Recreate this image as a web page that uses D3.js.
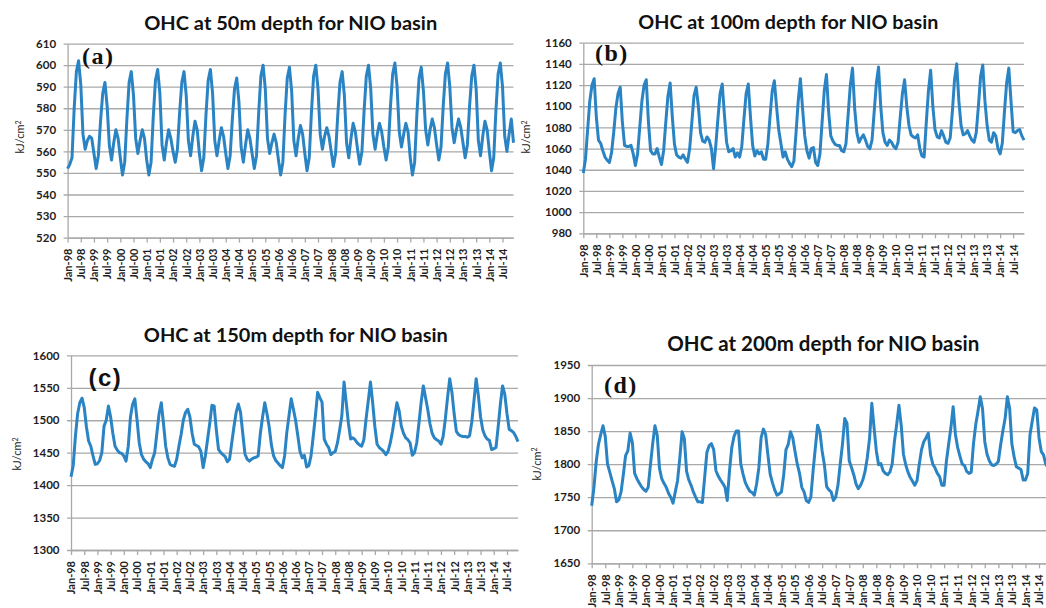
<!DOCTYPE html>
<html>
<head>
<meta charset="utf-8">
<script src="https://cdn.jsdelivr.net/npm/d3@7"></script>
<style>
  html, body { margin: 0; padding: 0; background: #fff; }
  svg { display: block; }
</style>
</head>
<body>
<svg id="chart" width="1046" height="608"></svg>
<script>

// x tick labels, one every 6 months
var tickLabels = ["Jan-98","Jul-98","Jan-99","Jul-99","Jan-00","Jul-00","Jan-01","Jul-01",
  "Jan-02","Jul-02","Jan-03","Jul-03","Jan-04","Jul-04","Jan-05","Jul-05","Jan-06","Jul-06",
  "Jan-07","Jul-07","Jan-08","Jul-08","Jan-09","Jul-09","Jan-10","Jul-10","Jan-11","Jul-11",
  "Jan-12","Jul-12","Jan-13","Jul-13","Jan-14","Jul-14"];

// monthly OHC, Jan-98 .. Dec-14 (one row per year)
var ohc50 = [
  552, 554, 557, 580, 597, 602, 591, 568, 561, 565, 567, 566,
  559, 552, 558, 574, 587, 592, 581, 563, 556, 564, 570, 566,
  557, 549, 555, 575, 592, 597, 586, 566, 559, 565, 570, 566,
  556, 549, 555, 576, 593, 598, 587, 563, 556, 564, 570, 566,
  560, 555, 561, 578, 592, 597, 586, 565, 558, 567, 574, 570,
  559, 551, 557, 577, 593, 598, 587, 565, 558, 565, 571, 567,
  559, 552, 558, 575, 589, 594, 583, 562, 555, 563, 570, 566,
  559, 552, 558, 578, 595, 600, 589, 566, 559, 564, 568, 564,
  556, 549, 555, 577, 594, 599, 588, 565, 558, 566, 572, 568,
  559, 551, 557, 578, 595, 600, 589, 568, 561, 567, 571, 567,
  560, 553, 559, 577, 592, 597, 586, 564, 557, 566, 573, 569,
  561, 554, 560, 579, 595, 600, 589, 568, 561, 568, 573, 569,
  562, 556, 562, 581, 596, 601, 590, 569, 562, 568, 573, 569,
  557, 549, 555, 577, 594, 599, 588, 570, 563, 570, 575, 571,
  563, 556, 562, 581, 596, 601, 590, 571, 564, 570, 575, 571,
  564, 557, 563, 581, 595, 600, 589, 565, 558, 567, 574, 570,
  560, 551, 557, 579, 596, 601, 590, 567, 560, 568, 575, 564
];

var ohc100 = [
  1037, 1050, 1078, 1105, 1120, 1126, 1090, 1068, 1065, 1058, 1052, 1049,
  1047, 1056, 1075, 1098, 1112, 1118, 1085, 1063, 1062, 1062, 1063, 1055,
  1044, 1055, 1080, 1105, 1120, 1125, 1085, 1058, 1055, 1055, 1060, 1052,
  1045, 1058, 1085, 1110, 1122, 1090, 1064, 1054, 1052, 1051, 1054, 1050,
  1047, 1060, 1085, 1110, 1118, 1100, 1075, 1067, 1066, 1071, 1068, 1060,
  1041, 1062, 1088, 1112, 1121, 1092, 1066, 1057, 1058, 1060, 1052, 1056,
  1052, 1062, 1088, 1112, 1121, 1090, 1063, 1053, 1058, 1055, 1057, 1050,
  1050, 1064, 1090, 1114, 1124, 1100, 1078, 1065, 1052, 1057, 1050, 1046,
  1043, 1048, 1075, 1105, 1126, 1098, 1072, 1058, 1051, 1060, 1061, 1047,
  1044, 1055, 1085, 1115, 1130, 1095, 1072, 1067, 1064, 1063, 1063, 1058,
  1057, 1065, 1092, 1120, 1136, 1098, 1075, 1066, 1070, 1073, 1068, 1062,
  1060, 1068, 1095, 1122, 1137, 1100, 1075, 1066, 1063, 1068, 1066, 1062,
  1060, 1066, 1090, 1112, 1125, 1100, 1082, 1073, 1071, 1070, 1073, 1060,
  1053, 1052, 1085, 1115, 1134, 1100, 1078, 1071, 1070, 1077, 1072, 1066,
  1065, 1070, 1095, 1125, 1140, 1105, 1082, 1073, 1074, 1077, 1072, 1068,
  1066, 1075, 1100, 1128, 1139, 1105, 1082, 1068, 1066, 1075, 1072, 1060,
  1055, 1065, 1095, 1122, 1136, 1105, 1076, 1075, 1077, 1078, 1072, 1068
];

var ohc150 = [
  1413, 1430, 1475, 1510, 1527, 1534, 1520, 1490, 1468, 1460, 1445, 1432,
  1433, 1438, 1450, 1491, 1500, 1522, 1505, 1480, 1460, 1454, 1450, 1449,
  1445, 1437, 1460, 1505, 1525, 1533, 1500, 1465, 1447, 1440, 1436, 1433,
  1427, 1440, 1450, 1480, 1510, 1527, 1495, 1460, 1442, 1432, 1430, 1429,
  1440, 1460, 1478, 1500, 1512, 1517, 1505, 1480, 1463, 1461, 1459, 1452,
  1427, 1445, 1470, 1495, 1523, 1522, 1485, 1455, 1450, 1447, 1444, 1436,
  1440, 1465, 1490, 1512, 1525, 1512, 1480, 1448, 1440, 1437, 1440, 1442,
  1443, 1445, 1480, 1505, 1527, 1510, 1490, 1462, 1445, 1438, 1434, 1430,
  1427, 1445, 1481, 1507, 1533, 1517, 1500, 1476, 1452, 1442, 1446, 1428,
  1430, 1445, 1475, 1507, 1543, 1535, 1528, 1471, 1463, 1458, 1447, 1450,
  1452, 1465, 1485, 1507, 1559, 1527, 1495, 1471, 1473, 1470, 1465, 1462,
  1460, 1470, 1502, 1530, 1559, 1527, 1490, 1463, 1458, 1455, 1452, 1447,
  1452, 1465, 1483, 1505, 1527, 1515, 1491, 1480, 1473, 1470, 1465, 1446,
  1450, 1465, 1495, 1527, 1553, 1535, 1517, 1495, 1480, 1473, 1470, 1468,
  1463, 1475, 1502, 1535, 1564, 1543, 1510, 1483, 1478, 1476, 1475, 1475,
  1474, 1476, 1497, 1530, 1564, 1538, 1505, 1485, 1476, 1471, 1469, 1455,
  1456, 1458, 1490, 1525, 1553, 1540, 1510, 1486, 1484, 1481, 1475, 1467
];

var ohc200 = [
  1737, 1765, 1804, 1830, 1845, 1858, 1842, 1800, 1788, 1775, 1763, 1743,
  1746, 1758, 1784, 1813, 1820, 1847, 1833, 1786, 1778, 1772, 1766, 1762,
  1759, 1765, 1799, 1831, 1858, 1844, 1794, 1778, 1771, 1765, 1756, 1750,
  1741, 1758, 1775, 1809, 1849, 1839, 1789, 1776, 1768, 1758, 1750, 1743,
  1743, 1742, 1780, 1818, 1828, 1831, 1822, 1790, 1782, 1776, 1771, 1765,
  1745, 1790, 1825, 1842, 1850, 1850, 1800, 1785, 1772, 1765, 1759, 1757,
  1753, 1770, 1795, 1840, 1853, 1845, 1814, 1785, 1772, 1761, 1753, 1755,
  1758, 1784, 1822, 1830, 1849, 1840, 1819, 1800, 1786, 1765, 1758, 1745,
  1742, 1750, 1790, 1825, 1859, 1849, 1820, 1799, 1766, 1761, 1758, 1745,
  1750, 1768, 1800, 1830, 1869, 1862, 1805, 1795, 1784, 1770, 1763, 1768,
  1776, 1789, 1810, 1839, 1892, 1855, 1820, 1799, 1801, 1790, 1786, 1784,
  1788, 1800, 1834, 1860, 1889, 1859, 1815, 1799, 1788, 1780, 1774, 1768,
  1775, 1800, 1822, 1834, 1840, 1847, 1814, 1800, 1794, 1786, 1781, 1768,
  1768, 1804, 1830, 1855, 1887, 1845, 1825, 1812, 1800, 1798, 1789, 1786,
  1788, 1831, 1860, 1880, 1902, 1884, 1834, 1815, 1805, 1799, 1798, 1800,
  1804, 1829, 1850, 1869, 1902, 1884, 1830, 1811, 1796, 1794, 1792, 1776,
  1776, 1786, 1844, 1865, 1885, 1882, 1840, 1819, 1814, 1800, 1795, 1790
];

// y tick values per panel
var ticks50 = [520, 530, 540, 550, 560, 570, 580, 590, 600, 610];
var ticks100 = [980, 1000, 1020, 1040, 1060, 1080, 1100, 1120, 1140, 1160];
var ticks150 = [1300, 1350, 1400, 1450, 1500, 1550, 1600];
var ticks200 = [1650, 1700, 1750, 1800, 1850, 1900, 1950];

var lineColor = "#2a84c4";
var gridColor = "#a9a9a9";
var sans = "Lato, 'Open Sans', sans-serif";

var panels = [
  { title: "OHC at 50m depth for NIO basin", values: ohc50, ticks: ticks50,
    x0: 67.6, x1: 513.5, yTop: 43.6, yBot: 237.6,
    titleX: 290.7, titleY: 30, titleW: 293, titleSize: 19,
    tag: "(a)", tagX: 82, tagY: 63.5, tagFont: "'Liberation Serif', 'Times New Roman', serif",
    unitX: 20.3, unitY: 137 },
  { title: "OHC at 100m depth for NIO basin", values: ohc100, ticks: ticks100,
    x0: 583.3, x1: 1024, yTop: 42.7, yBot: 233.3,
    titleX: 788.3, titleY: 28.5, titleW: 300, titleSize: 19,
    tag: "(b)", tagX: 595, tagY: 61, tagFont: "'Liberation Serif', 'Times New Roman', serif",
    unitX: 526, unitY: 137 },
  { title: "OHC at 150m depth for NIO basin", values: ohc150, ticks: ticks150,
    x0: 71, x1: 518, yTop: 355.4, yBot: 550,
    titleX: 295.8, titleY: 341.5, titleW: 304, titleSize: 19.5,
    tag: "(c)", tagX: 88.5, tagY: 385.5, tagFont: "'Liberation Sans', Arial, sans-serif",
    unitX: 17, unitY: 454 },
  { title: "OHC at 200m depth for NIO basin", values: ohc200, ticks: ticks200,
    x0: 591.7, x1: 1050.3, yTop: 365, yBot: 563.3,
    titleX: 823.3, titleY: 350.5, titleW: 312, titleSize: 20,
    tag: "(d)", tagX: 604, tagY: 392.5, tagFont: "'Liberation Serif', 'Times New Roman', serif",
    unitX: 536.7, unitY: 464 }
];

var svg = d3.select("#chart");

panels.forEach(function(p) {
  var n = p.values.length;
  var x = d3.scaleLinear().domain([0, n - 1]).range([p.x0, p.x1]);
  var y = d3.scaleLinear().domain([p.ticks[0], p.ticks[p.ticks.length - 1]]).range([p.yBot, p.yTop]);
  var g = svg.append("g");

  // gridlines + y labels
  var yAxis = g.append("g")
    .attr("transform", "translate(" + p.x0 + ",0)")
    .call(d3.axisLeft(y).tickValues(p.ticks).tickFormat(d3.format("d"))
      .tickSizeInner(-(p.x1 - p.x0)).tickSizeOuter(0).tickPadding(11.5));
  yAxis.select(".domain").attr("stroke", gridColor).attr("stroke-width", 1.3);
  yAxis.selectAll(".tick line").attr("x1", -4).attr("stroke", gridColor).attr("stroke-width", 1.3);
  yAxis.selectAll(".tick text")
    .attr("font-family", sans).attr("font-weight", "bold").attr("font-size", 11.5).attr("fill", "#1e1e1e");

  // x axis with rotated month labels
  var monthTicks = d3.range(0, n - 5, 6);
  var xAxis = g.append("g")
    .attr("transform", "translate(0," + p.yBot + ")")
    .call(d3.axisBottom(x).tickValues(monthTicks).tickSizeInner(5).tickSizeOuter(0)
      .tickFormat(function(d, i) { return tickLabels[i]; }));
  xAxis.select(".domain").attr("stroke", gridColor).attr("stroke-width", 1.3);
  xAxis.selectAll(".tick line").attr("stroke", gridColor).attr("stroke-width", 1.3);
  xAxis.selectAll(".tick text")
    .attr("transform", "rotate(-90)")
    .attr("text-anchor", "end")
    .attr("x", -11).attr("y", 0).attr("dy", "0.35em")
    .attr("font-family", sans).attr("font-weight", "bold").attr("font-size", 11).attr("fill", "#1e1e1e");

  // the series
  var line = d3.line()
    .x(function(d, i) { return x(i); })
    .y(function(d) { return y(d); });
  g.append("path")
    .datum(p.values)
    .attr("d", line)
    .attr("fill", "none")
    .attr("stroke", lineColor)
    .attr("stroke-width", 3)
    .attr("stroke-linejoin", "round");

  // title
  g.append("text")
    .attr("x", p.titleX).attr("y", p.titleY)
    .attr("text-anchor", "middle")
    .attr("font-family", sans).attr("font-weight", "bold").attr("font-size", p.titleSize)
    .attr("textLength", p.titleW).attr("lengthAdjust", "spacingAndGlyphs")
    .attr("fill", "#111")
    .text(p.title);

  // panel tag
  g.append("text")
    .attr("x", p.tagX).attr("y", p.tagY)
    .attr("font-family", p.tagFont).attr("font-weight", "bold").attr("font-size", 24)
    .attr("letter-spacing", 1.5)
    .attr("fill", "#111")
    .text(p.tag);

  // unit label
  var unit = g.append("text")
    .attr("transform", "translate(" + p.unitX + "," + p.unitY + ") rotate(-90)")
    .attr("text-anchor", "middle").attr("dy", "0.35em")
    .attr("font-family", sans).attr("font-size", 11).attr("fill", "#222");
  unit.append("tspan").text("kJ/cm");
  unit.append("tspan").attr("dy", "-0.45em").attr("font-size", 7).text("2");
});

</script>
</body>
</html>
